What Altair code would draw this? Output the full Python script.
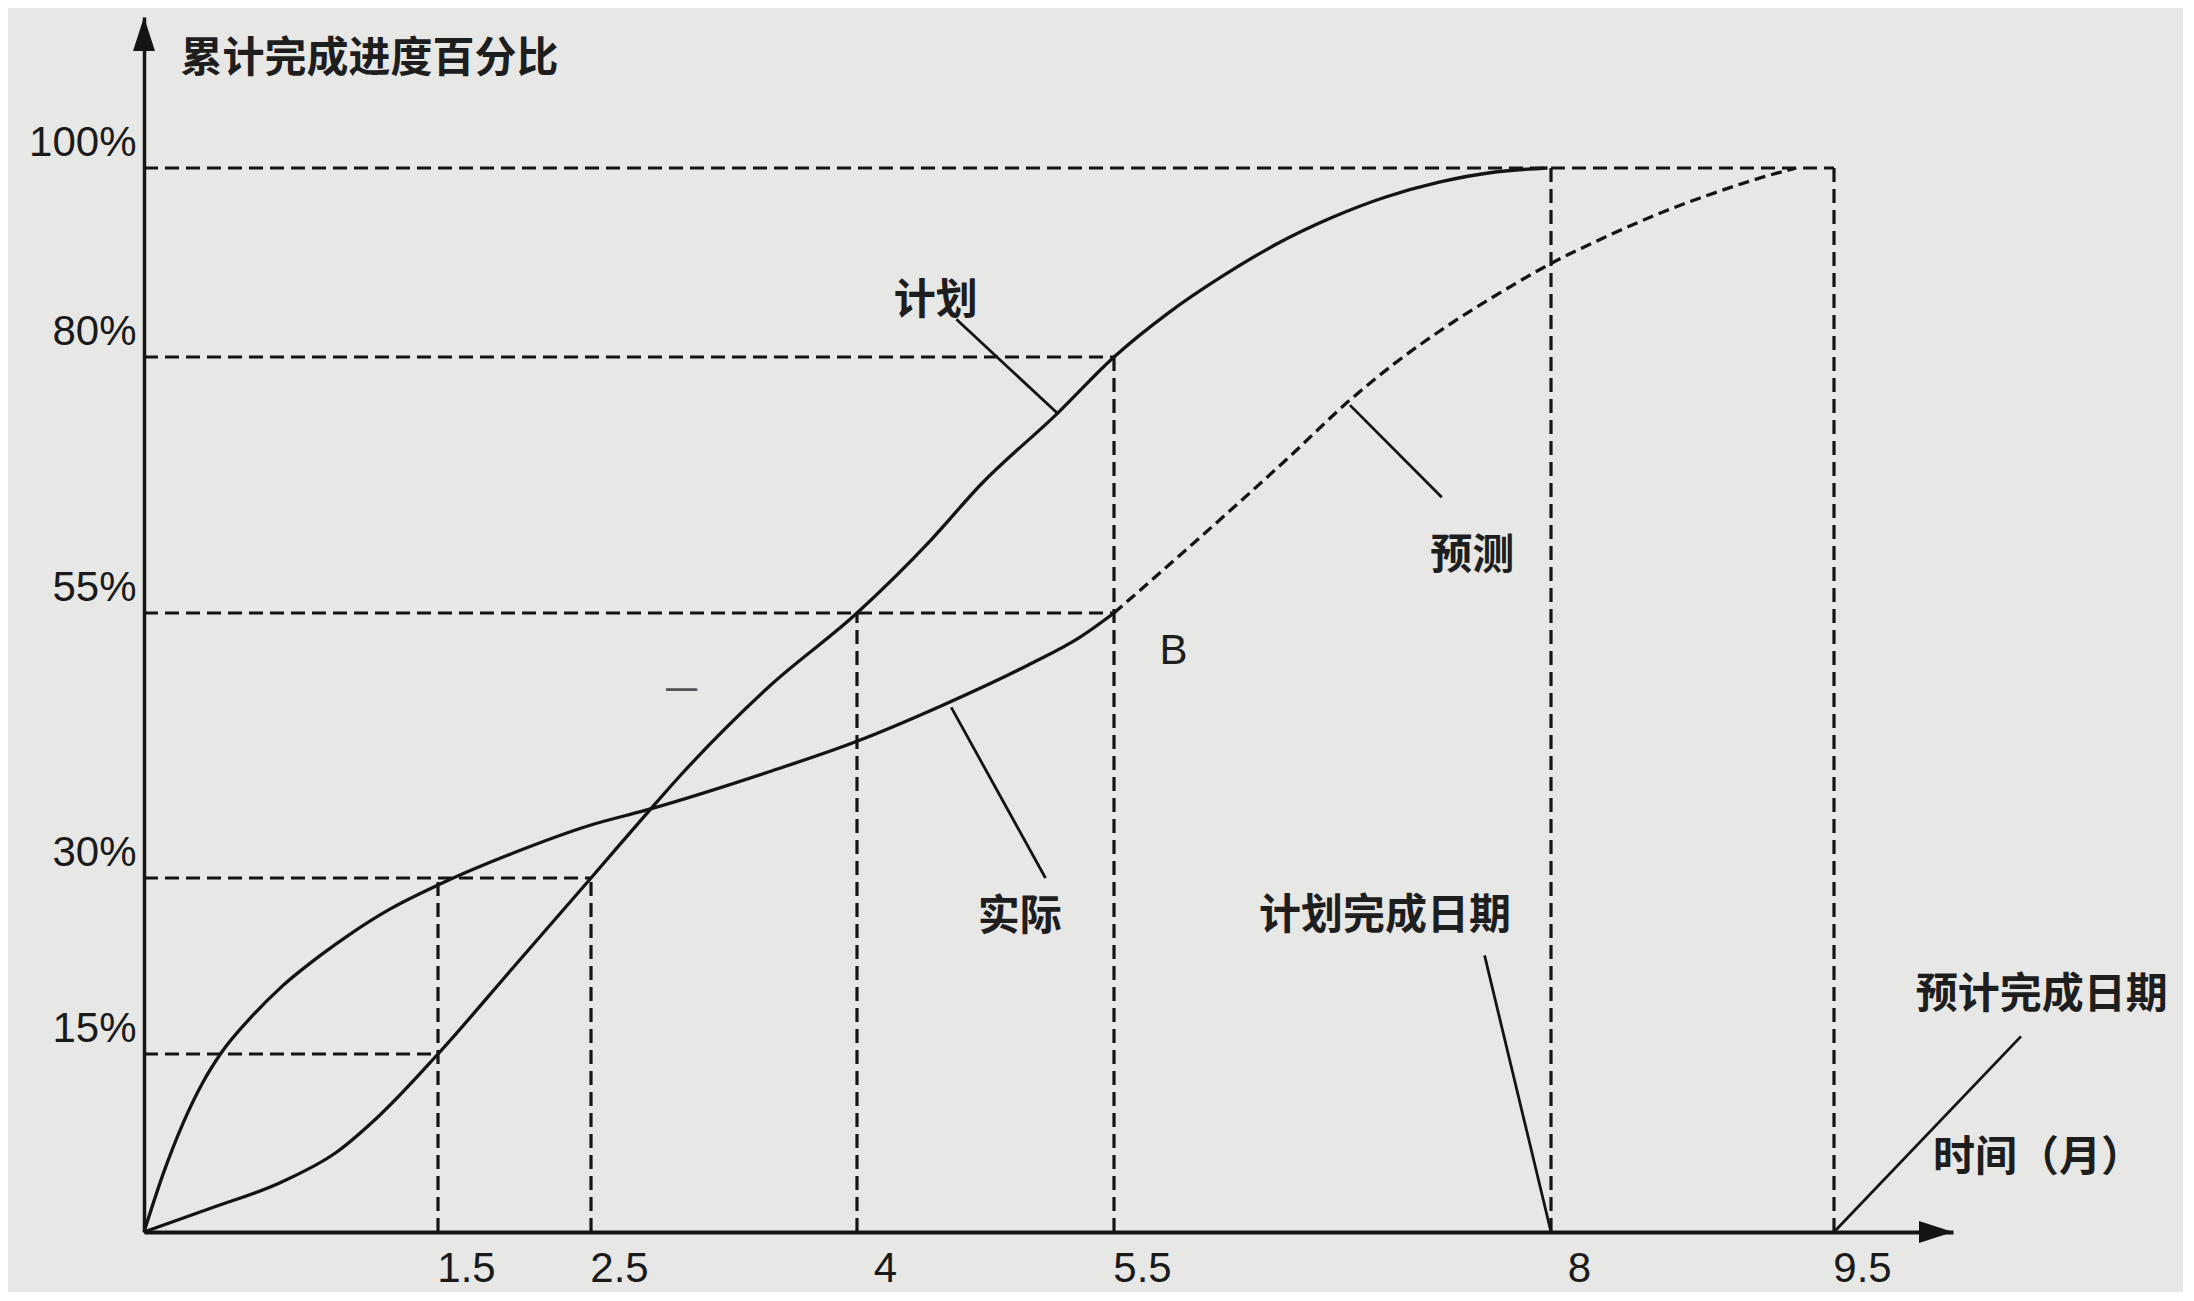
import altair as alt
import pandas as pd

# ---------------- data ----------------
# 计划 (planned S-curve)
plan_x = [0, 0.34, 0.7, 0.98, 1.2, 1.5, 2.0, 2.5, 2.81, 3.0, 3.5, 4.0, 4.43, 4.72, 5.17,
          5.5, 5.81, 6.12, 6.43, 6.74, 7.05, 7.36, 7.67, 7.98]
plan_y = [0, 2, 4.2, 6.7, 9.8, 15, 22.5, 30, 36, 39.6, 48, 55, 62.1, 67.5, 74.5,
          80, 84.65, 88.55, 91.95, 94.7, 96.9, 98.5, 99.55, 100]

# 实际 (actual)
act_x = [0, 0.1, 0.2, 0.3, 0.39, 0.55, 0.7, 0.9, 1.05, 1.25, 1.5, 2.0, 2.5, 2.81,
         3.5, 4.0, 4.5, 5.0, 5.3, 5.5]
act_y = [0, 5, 9.2, 12.6, 15, 18.2, 20.7, 23.4, 25.2, 27.3, 29.4, 32.4, 35.0, 36.4,
         40.0, 42.9, 46.3, 50.1, 52.7, 55]

# 预测 (forecast, dashed)
fc_x = [5.5, 6.0, 6.5, 6.85, 7.1, 7.4, 7.7, 8.0, 8.3, 8.6, 8.9, 9.1, 9.3]
fc_y = [55, 62.5, 70.2, 75.8, 79.3, 83.2, 86.7, 89.9, 92.8, 95.4, 97.6, 98.9, 100]

# dashed reference lines
h_val = [100, 80, 55, 30, 15]
h_end = [9.5, 5.5, 5.5, 2.5, 1.5]
v_val = [1.5, 2.5, 4, 5.5, 8, 9.5]
v_end = [30, 30, 55, 80, 100, 100]

# tick labels
y_ticks = [15, 30, 55, 80, 100]
x_ticks = [1.5, 2.5, 4, 5.5, 8, 9.5]

# annotation texts
cn_text = ["累计完成进度百分比", "计划", "预测", "实际", "计划完成日期", "预计完成日期", "时间（月）"]
cn_x = [1.15, 4.46, 7.55, 4.95, 7.05, 10.6, 10.58]
cn_y = [111.6, 85.9, 60.6, 26.7, 26.8, 20.0, 6.2]

# leader lines (start -> end)
ld_x = [4.58, 6.85, 4.55, 7.62, 10.49]
ld_y = [84.0, 75.3, 46.1, 23.4, 16.5]
ld_x2 = [5.17, 7.375, 5.1, 8.0, 9.5]
ld_y2 = [74.5, 66.3, 30.0, 0.0, 0.0]

# hand-drawn (non-uniform) axes: value knots -> pixel knots
X_DOM = [0, 1.5, 2.5, 4, 5.5, 8, 9.5, 10.13]
X_RNG = [0, 294, 447, 713, 970, 1407, 1690, 1809]
Y_DOM = [0, 15, 30, 55, 80, 100, 116]
Y_RNG = [1215, 1037, 861, 596, 340, 151, 0]

INK = "#141414"
CN_FONT = "Noto Sans CJK SC"
NUM_FONT = "Liberation Sans"

xs = alt.Scale(domain=X_DOM, range=X_RNG, nice=False, zero=False)
ys = alt.Scale(domain=Y_DOM, range=Y_RNG, nice=False, zero=False)

x_axis = alt.Axis(values=x_ticks, labelExpr="datum.value + ''", ticks=False, tickSize=0,
                  grid=False, domain=True, domainColor=INK, domainWidth=4,
                  labelFont=NUM_FONT, labelFontSize=42, labelColor="#1a1a1a",
                  labelPadding=16, labelBaseline="top", labelOffset=28,
                  labelFlush=False, labelOverlap=False, title=None)
y_axis = alt.Axis(values=y_ticks, labelExpr="datum.value + '%'", ticks=False, tickSize=0,
                  grid=False, domain=True, domainColor=INK, domainWidth=3.5,
                  labelFont=NUM_FONT, labelFontSize=42, labelColor="#1a1a1a",
                  labelPadding=8, labelBaseline="alphabetic", labelOffset=-13,
                  labelFlush=False, labelOverlap=False, title=None)

h_df = pd.DataFrame({"x": [0] * len(h_val), "x2": h_end, "y": h_val})
v_df = pd.DataFrame({"x": v_val, "y": [0] * len(v_val), "y2": v_end})
plan_df = pd.DataFrame({"x": plan_x, "y": plan_y})
act_df = pd.DataFrame({"x": act_x, "y": act_y})
fc_df = pd.DataFrame({"x": fc_x, "y": fc_y})
cn_df = pd.DataFrame({"t": cn_text, "x": cn_x, "y": cn_y})
ld_df = pd.DataFrame({"x": ld_x, "y": ld_y, "x2": ld_x2, "y2": ld_y2})
b_df = pd.DataFrame({"t": ["B"], "x": [5.84], "y": [51.4]})
dash_df = pd.DataFrame({"t": ["一"], "x": [3.01], "y": [47.5]})
up_df = pd.DataFrame({"x": [X_DOM[0]], "y": [Y_DOM[-1]]})
right_df = pd.DataFrame({"x": [X_DOM[-1]], "y": [Y_DOM[0]]})

X = lambda f="x:Q": alt.X(f, scale=xs, axis=x_axis)
Y = lambda f="y:Q": alt.Y(f, scale=ys, axis=y_axis)

h_rules = alt.Chart(h_df).mark_rule(color=INK, strokeWidth=3.2, strokeDash=[14, 7]).encode(
    x=X(), x2="x2:Q", y=Y())
v_rules = alt.Chart(v_df).mark_rule(color=INK, strokeWidth=3.2, strokeDash=[14, 7]).encode(
    x=X(), y=Y(), y2="y2:Q")

plan = alt.Chart(plan_df).mark_line(color=INK, strokeWidth=3.3, interpolate="monotone").encode(
    x=X(), y=Y(), order="x:Q")
act = alt.Chart(act_df).mark_line(color=INK, strokeWidth=3.3, interpolate="monotone").encode(
    x=X(), y=Y(), order="x:Q")
fc = alt.Chart(fc_df).mark_line(color=INK, strokeWidth=3.3, interpolate="monotone",
                                strokeDash=[11, 6]).encode(x=X(), y=Y(), order="x:Q")

leaders = alt.Chart(ld_df).mark_rule(color=INK, strokeWidth=2.8).encode(
    x=X(), y=Y(), x2="x2:Q", y2="y2:Q")

cn_labels = alt.Chart(cn_df).mark_text(font=CN_FONT, fontSize=42, fontWeight="bold",
                                       color="#1e1e1e", align="center",
                                       baseline="middle").encode(x=X(), y=Y(), text="t:N")
b_label = alt.Chart(b_df).mark_text(font=NUM_FONT, fontSize=42, color="#1e1e1e",
                                    align="center", baseline="middle").encode(
    x=X(), y=Y(), text="t:N")
dash_label = alt.Chart(dash_df).mark_text(font=CN_FONT, fontSize=34, color="#555555",
                                          align="center", baseline="middle").encode(
    x=X(), y=Y(), text="t:N")

up_arrow = alt.Chart(up_df).mark_point(shape="M0,0L0.55,1.7L-0.55,1.7Z", size=1600,
                                       filled=True, color=INK, opacity=1).encode(x=X(), y=Y())
right_arrow = alt.Chart(right_df).mark_point(shape="M0,0L-1.7,-0.55L-1.7,0.55Z", size=1600,
                                             filled=True, color=INK, opacity=1).encode(x=X(), y=Y())

chart = alt.layer(
    h_rules, v_rules, plan, act, fc, leaders, cn_labels, b_label, dash_label,
    up_arrow, right_arrow
).properties(
    width=1809, height=1215,
    padding={"left": 136, "top": 9, "right": 230, "bottom": 60},
    autosize=alt.AutoSizeParams(type="none"),
    background="#e7e7e5",
).configure_view(strokeWidth=0)

chart.save("out.html", embed_options={"renderer": "svg", "actions": False})
